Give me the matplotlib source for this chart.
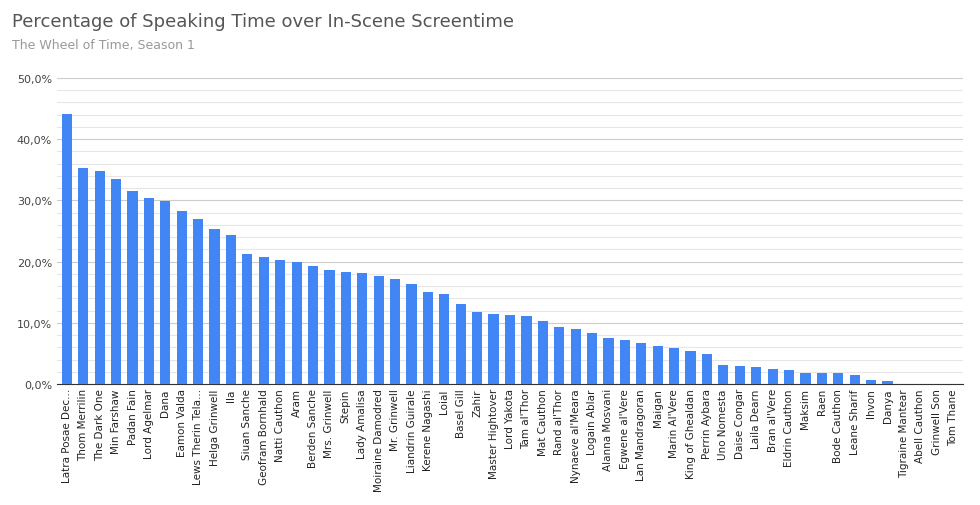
import matplotlib
matplotlib.use("Agg")
import matplotlib.pyplot as plt
import numpy as np
from matplotlib.ticker import MultipleLocator, FuncFormatter

names = ["Latra Posae Dec...","Thom Merrilin","The Dark One","Min Farshaw","Padan Fain","Lord Agelmar","Dana",
"Eamon Valda","Lews Therin Tela...","Helga Grinwell","Ila","Siuan Sanche","Geofram Bornhald","Natti Cauthon","Aram",
"Berden Sanche","Mrs. Grinwell","Stepin","Lady Amalisa","Moiraine Damodred","Mr. Grinwell","Liandrin Guirale",
"Kerene Nagashi","Loial","Basel Gill","Zahir","Master Hightover","Lord Yakota","Tam al'Thor","Mat Cauthon",
"Rand al'Thor","Nynaeve al'Meara","Logain Ablar","Alanna Mosvani","Egwene al'Vere","Lan Mandragoran","Maigan",
"Marin Al'Vere","King of Ghealdan","Perrin Aybara","Uno Nomesta","Daise Congar","Laila Dearn","Bran al'Vere",
"Eldrin Cauthon","Maksim","Raen","Bode Cauthon","Leane Sharif","Ihvon","Danya","Tigraine Mantear",
"Abell Cauthon","Grinwell Son","Tom Thane"]
values = [44.1,35.3,34.8,33.5,31.5,30.4,29.9,28.3,27.0,25.3,24.3,21.2,20.8,20.3,19.9,19.3,18.6,18.3,18.1,17.6,
17.2,16.3,15.0,14.7,13.1,11.8,11.4,11.3,11.1,10.3,9.3,9.0,8.3,7.5,7.2,6.7,6.2,5.9,5.4,4.9,3.1,2.9,2.8,2.5,2.3,
1.8,1.8,1.8,1.5,0.7,0.5,0,0,0,0]

fig = plt.figure(figsize=(9.8,5.06), dpi=100)
ax = fig.add_axes([57/980, 1-385/506, 906/980, 306/506])
x = np.arange(len(names))
ax.bar(x, values, width=0.62, color="#4285F4", zorder=3)
ax.set_xlim(-0.6, len(names)-0.4)
ax.set_ylim(0, 50)
ax.yaxis.set_major_locator(MultipleLocator(10))
ax.yaxis.set_minor_locator(MultipleLocator(2))
ax.yaxis.set_major_formatter(FuncFormatter(lambda v, p: f"{v:.1f}%".replace(".", ",")))
ax.grid(axis="y", which="major", color="#cccccc", lw=0.8, zorder=0)
ax.grid(axis="y", which="minor", color="#e6e6e6", lw=0.8, zorder=0)
ax.set_xticks(x)
ax.set_xticklabels(names, rotation=90, fontsize=7.5, color="#222222")
ax.tick_params(axis="y", labelsize=8, colors="#444444", length=0)
ax.tick_params(axis="y", which="minor", length=0)
ax.tick_params(axis="x", length=0, pad=3)
for s in ["top","right","left"]:
    ax.spines[s].set_visible(False)
ax.spines["bottom"].set_color("#333333")
fig.text(12/980, 1-22/506, "Percentage of Speaking Time over In-Scene Screentime", fontsize=13, color="#555555", va="center")
fig.text(12/980, 1-46/506, "The Wheel of Time, Season 1", fontsize=9, color="#999999", va="center")
fig.savefig("out.png", dpi=100, facecolor="white")
